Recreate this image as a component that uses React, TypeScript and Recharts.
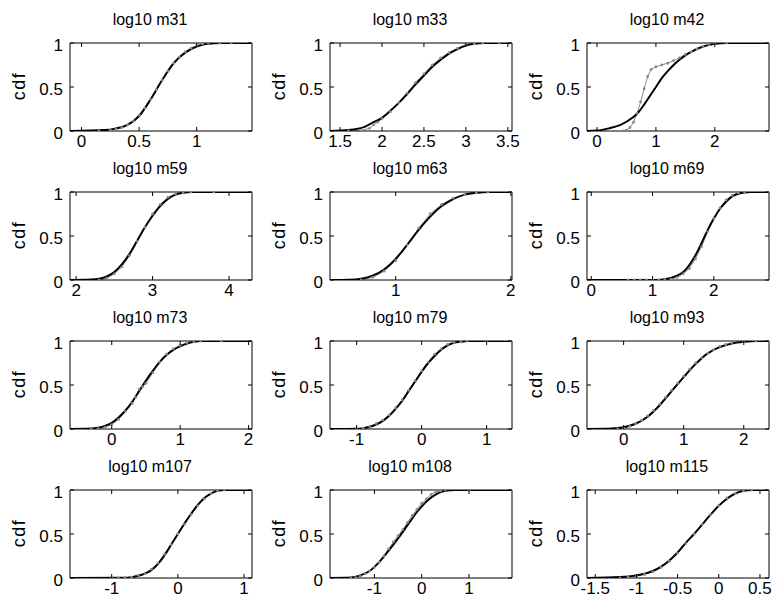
import { LineChart, Line, XAxis, YAxis } from 'recharts'

type Pt = [number, number]

// fitted cdf (thick black) and empirical cdf (grey dots) per panel
const m31Fit: Pt[] = [[-0.1, 0], [0.2, 0.01], [0.3, 0.03], [0.4, 0.07], [0.5, 0.17], [0.6, 0.36], [0.7, 0.58], [0.8, 0.77], [0.9, 0.89], [1.0, 0.96], [1.1, 0.99], [1.2, 1], [1.48, 1]]
const m31Emp: Pt[] = [[0.15, 0], [0.25, 0.01], [0.3, 0.02], [0.35, 0.04], [0.4, 0.07], [0.45, 0.11], [0.5, 0.18], [0.55, 0.26], [0.6, 0.36], [0.65, 0.47], [0.7, 0.58], [0.75, 0.68], [0.8, 0.77], [0.85, 0.84], [0.9, 0.9], [0.95, 0.94], [1.0, 0.97], [1.05, 0.99], [1.1, 1], [1.2, 1], [1.3, 1], [1.48, 1]]

const m33Fit: Pt[] = [[1.38, 0], [1.6, 0.01], [1.8, 0.05], [1.9, 0.1], [2.0, 0.15], [2.1, 0.23], [2.2, 0.32], [2.3, 0.42], [2.4, 0.53], [2.5, 0.63], [2.6, 0.73], [2.7, 0.81], [2.8, 0.88], [2.9, 0.93], [3.0, 0.97], [3.1, 0.99], [3.2, 1], [3.55, 1]]
const m33Emp: Pt[] = [[1.6, 0], [1.75, 0.005], [1.85, 0.03], [1.9, 0.07], [1.95, 0.1], [2.0, 0.14], [2.1, 0.22], [2.2, 0.32], [2.3, 0.43], [2.4, 0.55], [2.5, 0.65], [2.6, 0.75], [2.7, 0.83], [2.8, 0.89], [2.9, 0.94], [3.0, 0.98], [3.1, 0.99], [3.2, 1], [3.4, 1], [3.55, 1]]

const m42Fit: Pt[] = [[-0.17, 0], [0, 0.005], [0.2, 0.03], [0.4, 0.07], [0.6, 0.15], [0.7, 0.21], [0.8, 0.3], [0.9, 0.4], [1.0, 0.5], [1.1, 0.6], [1.2, 0.68], [1.3, 0.75], [1.4, 0.81], [1.5, 0.86], [1.6, 0.9], [1.8, 0.96], [2.0, 0.99], [2.2, 1], [2.92, 1]]
const m42Emp: Pt[] = [[0.45, 0], [0.5, 0.01], [0.56, 0.04], [0.62, 0.1], [0.68, 0.2], [0.74, 0.33], [0.8, 0.48], [0.86, 0.62], [0.92, 0.7], [1.0, 0.73], [1.1, 0.75], [1.2, 0.77], [1.3, 0.8], [1.4, 0.83], [1.5, 0.87], [1.6, 0.9], [1.7, 0.93], [1.8, 0.96], [1.9, 0.98], [2.0, 0.99], [2.2, 1], [2.92, 1]]

const m59Fit: Pt[] = [[1.92, 0], [2.2, 0.005], [2.3, 0.015], [2.4, 0.04], [2.5, 0.09], [2.6, 0.18], [2.7, 0.3], [2.8, 0.45], [2.9, 0.6], [3.0, 0.73], [3.1, 0.84], [3.2, 0.92], [3.3, 0.97], [3.4, 0.99], [3.5, 1], [4.3, 1]]
const m59Emp: Pt[] = [[2.3, 0], [2.4, 0.02], [2.5, 0.07], [2.6, 0.15], [2.7, 0.28], [2.8, 0.44], [2.9, 0.6], [3.0, 0.75], [3.1, 0.86], [3.2, 0.94], [3.3, 0.98], [3.4, 0.99], [3.5, 1], [3.8, 1], [4.3, 1]]

const m63Fit: Pt[] = [[0.43, 0], [0.6, 0.003], [0.7, 0.015], [0.8, 0.05], [0.9, 0.12], [1.0, 0.24], [1.1, 0.4], [1.2, 0.57], [1.3, 0.72], [1.4, 0.84], [1.5, 0.92], [1.6, 0.97], [1.7, 0.99], [1.8, 1], [2.01, 1]]
const m63Emp: Pt[] = [[0.7, 0], [0.8, 0.03], [0.9, 0.1], [1.0, 0.22], [1.1, 0.4], [1.2, 0.59], [1.3, 0.75], [1.4, 0.86], [1.5, 0.93], [1.6, 0.97], [1.7, 0.99], [1.8, 1], [2.01, 1]]

const m69Fit: Pt[] = [[-0.07, 0], [1.0, 0], [1.2, 0.01], [1.4, 0.05], [1.5, 0.09], [1.6, 0.17], [1.7, 0.28], [1.8, 0.42], [1.9, 0.57], [2.0, 0.7], [2.1, 0.81], [2.2, 0.89], [2.3, 0.95], [2.4, 0.98], [2.5, 0.995], [2.6, 1], [2.9, 1]]
const m69Emp: Pt[] = [[0.6, 0], [0.7, 0], [0.8, 0], [0.9, 0], [1.0, 0], [1.1, 0], [1.2, 0.003], [1.3, 0.01], [1.4, 0.03], [1.5, 0.07], [1.6, 0.13], [1.7, 0.24], [1.8, 0.38], [1.9, 0.55], [2.0, 0.7], [2.1, 0.82], [2.2, 0.91], [2.3, 0.96], [2.4, 0.99], [2.5, 1], [2.9, 1]]

const m73Fit: Pt[] = [[-0.61, 0], [-0.3, 0.005], [-0.2, 0.015], [-0.1, 0.035], [0, 0.07], [0.1, 0.13], [0.2, 0.21], [0.3, 0.31], [0.4, 0.43], [0.5, 0.55], [0.6, 0.66], [0.7, 0.76], [0.8, 0.84], [0.9, 0.9], [1.0, 0.94], [1.1, 0.97], [1.2, 0.99], [1.3, 1], [2.05, 1]]
const m73Emp: Pt[] = [[-0.3, 0], [-0.2, 0.005], [-0.1, 0.02], [0, 0.05], [0.1, 0.11], [0.2, 0.2], [0.3, 0.29], [0.35, 0.36], [0.4, 0.45], [0.45, 0.48], [0.5, 0.52], [0.6, 0.64], [0.7, 0.76], [0.8, 0.85], [0.9, 0.91], [1.0, 0.95], [1.1, 0.98], [1.2, 0.99], [1.3, 1], [1.6, 1], [2.05, 1]]

const m79Fit: Pt[] = [[-1.41, 0], [-1.0, 0.003], [-0.9, 0.01], [-0.8, 0.025], [-0.7, 0.05], [-0.6, 0.09], [-0.5, 0.15], [-0.4, 0.23], [-0.3, 0.32], [-0.2, 0.43], [-0.1, 0.54], [0, 0.65], [0.1, 0.75], [0.2, 0.83], [0.3, 0.9], [0.4, 0.95], [0.5, 0.98], [0.6, 0.99], [0.7, 1], [1.39, 1]]
const m79Emp: Pt[] = [[-1.0, 0], [-0.9, 0.01], [-0.8, 0.03], [-0.7, 0.06], [-0.6, 0.1], [-0.5, 0.16], [-0.4, 0.24], [-0.3, 0.33], [-0.2, 0.44], [-0.1, 0.55], [0, 0.66], [0.1, 0.76], [0.2, 0.85], [0.3, 0.91], [0.4, 0.96], [0.5, 0.98], [0.6, 0.99], [0.7, 1], [1.0, 1], [1.39, 1]]

const m93Fit: Pt[] = [[-0.61, 0], [-0.2, 0.005], [0, 0.02], [0.2, 0.06], [0.4, 0.14], [0.6, 0.27], [0.8, 0.43], [1.0, 0.59], [1.2, 0.74], [1.4, 0.86], [1.6, 0.93], [1.8, 0.97], [2.0, 0.99], [2.2, 1], [2.42, 1]]
const m93Emp: Pt[] = [[-0.1, 0], [0, 0.01], [0.1, 0.03], [0.2, 0.06], [0.3, 0.1], [0.4, 0.15], [0.5, 0.21], [0.6, 0.28], [0.7, 0.36], [0.8, 0.44], [0.9, 0.52], [1.0, 0.6], [1.1, 0.68], [1.2, 0.75], [1.3, 0.81], [1.4, 0.86], [1.5, 0.9], [1.6, 0.94], [1.7, 0.96], [1.8, 0.98], [2.0, 0.99], [2.2, 1], [2.42, 1]]

const m107Fit: Pt[] = [[-1.63, 0], [-0.8, 0.003], [-0.7, 0.01], [-0.6, 0.025], [-0.5, 0.05], [-0.4, 0.09], [-0.3, 0.16], [-0.2, 0.26], [-0.1, 0.38], [0, 0.5], [0.1, 0.62], [0.2, 0.73], [0.3, 0.83], [0.4, 0.91], [0.5, 0.96], [0.6, 0.99], [0.7, 1], [1.12, 1]]
const m107Emp: Pt[] = [[-1.0, 0], [-0.9, 0.002], [-0.8, 0.005], [-0.7, 0.01], [-0.6, 0.03], [-0.5, 0.05], [-0.4, 0.1], [-0.3, 0.17], [-0.2, 0.27], [-0.1, 0.38], [0, 0.5], [0.1, 0.61], [0.2, 0.72], [0.3, 0.82], [0.4, 0.9], [0.5, 0.96], [0.6, 0.99], [0.7, 1], [1.12, 1]]

const m108Fit: Pt[] = [[-1.94, 0], [-1.5, 0.005], [-1.3, 0.03], [-1.1, 0.08], [-0.9, 0.18], [-0.7, 0.31], [-0.5, 0.45], [-0.3, 0.6], [-0.1, 0.75], [0.1, 0.87], [0.3, 0.95], [0.5, 0.99], [0.7, 1], [1.91, 1]]
const m108Emp: Pt[] = [[-1.5, 0], [-1.4, 0.005], [-1.3, 0.02], [-1.2, 0.05], [-1.1, 0.08], [-1.0, 0.12], [-0.9, 0.18], [-0.8, 0.25], [-0.7, 0.33], [-0.6, 0.41], [-0.5, 0.48], [-0.4, 0.55], [-0.3, 0.63], [-0.2, 0.71], [-0.1, 0.78], [0, 0.85], [0.1, 0.9], [0.2, 0.95], [0.3, 0.98], [0.4, 0.99], [0.5, 1], [1.0, 1], [1.91, 1]]

const m115Fit: Pt[] = [[-1.6, 0], [-1.2, 0.01], [-1.0, 0.03], [-0.9, 0.05], [-0.8, 0.08], [-0.7, 0.13], [-0.6, 0.2], [-0.5, 0.29], [-0.4, 0.4], [-0.3, 0.5], [-0.2, 0.61], [-0.1, 0.72], [0, 0.82], [0.1, 0.9], [0.2, 0.96], [0.3, 0.99], [0.4, 1], [0.61, 1]]
const m115Emp: Pt[] = [[-1.2, 0], [-1.1, 0.01], [-1.0, 0.02], [-0.9, 0.04], [-0.8, 0.07], [-0.7, 0.12], [-0.6, 0.19], [-0.5, 0.28], [-0.4, 0.39], [-0.3, 0.5], [-0.2, 0.61], [-0.1, 0.72], [0, 0.82], [0.1, 0.91], [0.2, 0.96], [0.3, 0.99], [0.4, 1], [0.61, 1]]

// tick labels
const cdfTicks = [0, 0.5, 1]
const m31Ticks = [0, 0.5, 1]
const m33Ticks = [1.5, 2, 2.5, 3, 3.5]
const m42Ticks = [0, 1, 2]
const m59Ticks = [2, 3, 4]
const m63Ticks = [1, 2]
const m69Ticks = [0, 1, 2]
const m73Ticks = [0, 1, 2]
const m79Ticks = [-1, 0, 1]
const m93Ticks = [0, 1, 2]
const m107Ticks = [-1, 0, 1]
const m108Ticks = [-1, 0, 1]
const m115Ticks = [-1.5, -1, -0.5, 0, 0.5]

const FONT = '"Liberation Sans", Arial, sans-serif'
const COLS = [70, 330, 587]
const ROWS = [43, 192, 341, 490]

const panels = [
  { title: 'log10 m31', fit: m31Fit, emp: m31Emp, ticks: m31Ticks, domain: [-0.1, 1.48] },
  { title: 'log10 m33', fit: m33Fit, emp: m33Emp, ticks: m33Ticks, domain: [1.38, 3.55] },
  { title: 'log10 m42', fit: m42Fit, emp: m42Emp, ticks: m42Ticks, domain: [-0.17, 2.92] },
  { title: 'log10 m59', fit: m59Fit, emp: m59Emp, ticks: m59Ticks, domain: [1.92, 4.3] },
  { title: 'log10 m63', fit: m63Fit, emp: m63Emp, ticks: m63Ticks, domain: [0.43, 2.01] },
  { title: 'log10 m69', fit: m69Fit, emp: m69Emp, ticks: m69Ticks, domain: [-0.07, 2.9] },
  { title: 'log10 m73', fit: m73Fit, emp: m73Emp, ticks: m73Ticks, domain: [-0.61, 2.05] },
  { title: 'log10 m79', fit: m79Fit, emp: m79Emp, ticks: m79Ticks, domain: [-1.41, 1.39] },
  { title: 'log10 m93', fit: m93Fit, emp: m93Emp, ticks: m93Ticks, domain: [-0.61, 2.42] },
  { title: 'log10 m107', fit: m107Fit, emp: m107Emp, ticks: m107Ticks, domain: [-1.63, 1.12] },
  { title: 'log10 m108', fit: m108Fit, emp: m108Emp, ticks: m108Ticks, domain: [-1.94, 1.91] },
  { title: 'log10 m115', fit: m115Fit, emp: m115Emp, ticks: m115Ticks, domain: [-1.6, 0.61] },
]

const toRows = (pts: Pt[]) => pts.map(([x, y]) => ({ x, y }))

const BottomTick = ({ x, y, payload }: any) => (
  <g>
    <line x1={x} y1={y} x2={x} y2={y - 4} stroke="#000" />
    <text x={x} y={y + 16} textAnchor="middle" fontSize={17} fontFamily={FONT} fill="#000">{payload.value}</text>
  </g>
)
const TopTick = ({ x, y }: any) => <line x1={x} y1={y} x2={x} y2={y + 4} stroke="#000" />
const LeftTick = ({ x, y, payload }: any) => (
  <g>
    <line x1={x} y1={y} x2={x + 4} y2={y} stroke="#000" />
    <text x={x - 7} y={y + 7.5} textAnchor="end" fontSize={17} fontFamily={FONT} fill="#000">{payload.value}</text>
  </g>
)
const RightTick = ({ x, y }: any) => <line x1={x} y1={y} x2={x - 4} y2={y} stroke="#000" />

// plot box inside each 260x149 chart: x 70..252, y 30..118
const Panel = ({ p, left, top }: any) => (
  <div style={{ position: 'absolute', left: left - 70, top: top - 30, width: 260, height: 149 }}>
    <div style={{ position: 'absolute', left: 80, width: 140, top: -1, textAlign: 'center', fontFamily: FONT, fontSize: 16, lineHeight: '16px' }}>
      {p.title}
    </div>
    <div style={{ position: 'absolute', left: 19, top: 73, transform: 'translate(-50%, -50%) rotate(-90deg)', fontFamily: FONT, fontSize: 18, letterSpacing: 1.5, lineHeight: '18px' }}>
      cdf
    </div>
    <LineChart width={260} height={149} margin={{ top: 29, right: 7, bottom: 1, left: 10 }}>
      <XAxis xAxisId={0} type="number" dataKey="x" domain={p.domain} ticks={p.ticks} allowDataOverflow interval={0}
        height={30} tickSize={0} tickMargin={0} tickLine={false} axisLine={{ stroke: '#000' }} tick={<BottomTick />} />
      <XAxis xAxisId="top" orientation="top" type="number" dataKey="x" domain={p.domain} ticks={p.ticks} allowDataOverflow interval={0}
        height={1} tickSize={0} tickMargin={0} tickLine={false} axisLine={{ stroke: '#000' }} tick={<TopTick />} />
      <YAxis yAxisId={0} type="number" domain={[0, 1]} ticks={cdfTicks} allowDataOverflow interval={0}
        width={60} tickSize={0} tickMargin={0} tickLine={false} axisLine={{ stroke: '#000' }} tick={<LeftTick />} />
      <YAxis yAxisId="right" orientation="right" type="number" domain={[0, 1]} ticks={cdfTicks} allowDataOverflow interval={0}
        width={1} tickSize={0} tickMargin={0} tickLine={false} axisLine={{ stroke: '#000' }} tick={<RightTick />} />
      <Line data={toRows(p.emp)} dataKey="y" type="linear" stroke="#8a8a8a" strokeWidth={1}
        dot={{ r: 1.4, fill: '#888', stroke: 'none' }} isAnimationActive={false} />
      <Line data={toRows(p.fit)} dataKey="y" type="monotone" stroke="#000" strokeWidth={2}
        dot={false} isAnimationActive={false} />
    </LineChart>
  </div>
)

export default function App() {
  return (
    <div style={{ position: 'absolute', left: 0, top: 0, width: 777, height: 604, background: '#fff' }}>
      {panels.map((p, i) => (
        <Panel key={p.title} p={p} left={COLS[i % 3]} top={ROWS[Math.floor(i / 3)]} />
      ))}
    </div>
  )
}
